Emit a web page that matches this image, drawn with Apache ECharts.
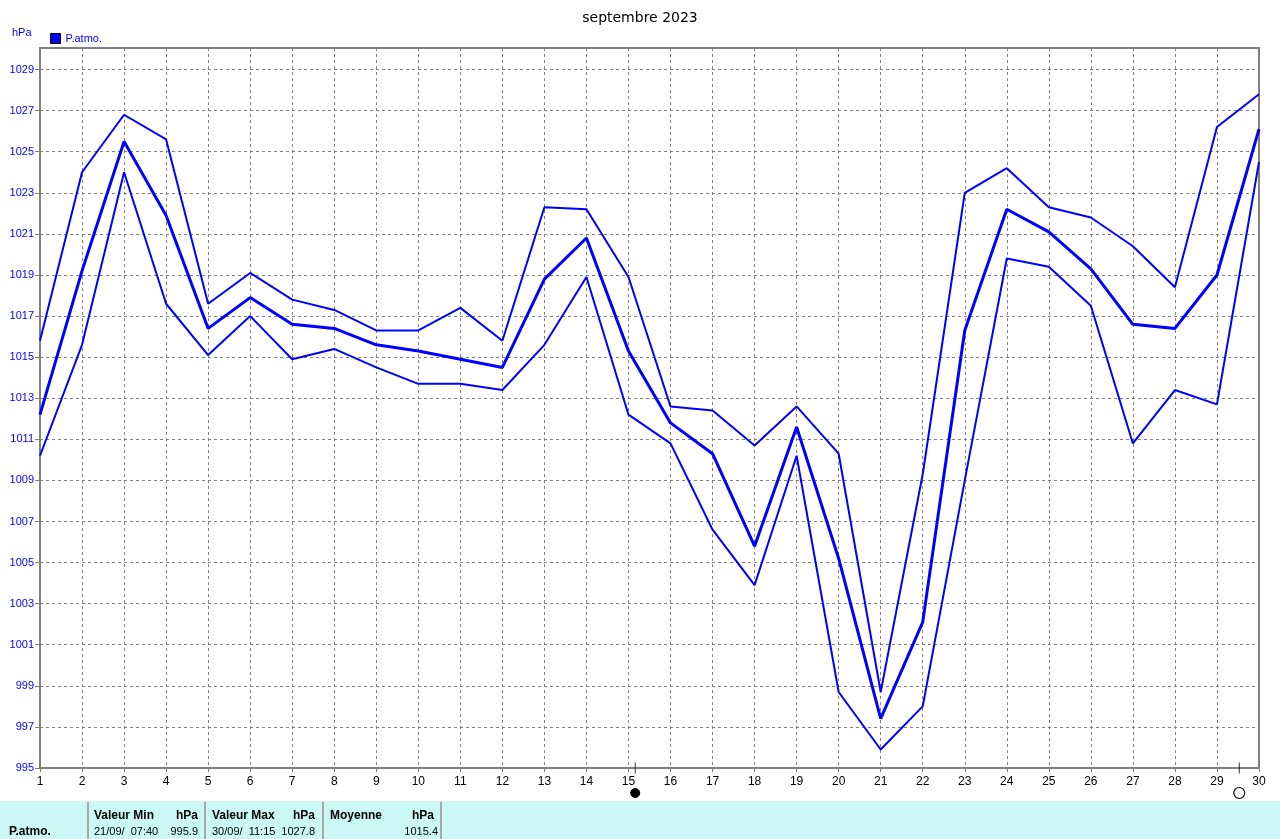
<!DOCTYPE html>
<html>
<head>
<meta charset="utf-8">
<script src="https://cdn.jsdelivr.net/npm/echarts@6/dist/echarts.min.js"></script>
<style>
html,body{margin:0;padding:0;background:#fff;}
#c{width:1280px;height:839px;}
</style>
</head>
<body>
<div id="c"></div>
<script>
// ---- data ----
const days = [1,2,3,4,5,6,7,8,9,10,11,12,13,14,15,16,17,18,19,20,21,22,23,24,25,26,27,28,29,30];
const pMax  = [1015.8,1024.0,1026.8,1025.6,1017.6,1019.1,1017.8,1017.3,1016.3,1016.3,1017.4,1015.8,1022.3,1022.2,1018.9,1012.6,1012.4,1010.7,1012.6,1010.3,998.7,1009.3,1023.0,1024.2,1022.3,1021.8,1020.4,1018.4,1026.2,1027.8];
const pMean = [1012.2,1019.2,1025.5,1021.9,1016.4,1017.9,1016.6,1016.4,1015.6,1015.3,1014.9,1014.5,1018.8,1020.8,1015.3,1011.8,1010.3,1005.8,1011.6,1005.2,997.4,1002.1,1016.3,1022.2,1021.1,1019.3,1016.6,1016.4,1019.0,1026.1];
const pMin  = [1010.2,1015.6,1024.0,1017.6,1015.1,1017.0,1014.9,1015.4,1014.5,1013.7,1013.7,1013.4,1015.6,1018.9,1012.2,1010.8,1006.6,1003.9,1010.2,998.7,995.9,998.0,1009.0,1019.8,1019.4,1017.5,1010.8,1013.4,1012.7,1024.5];
const moonDays = [15.16, 29.53];
const moonPhases = ['new', 'full'];
const yMin = 995, yMax = 1030.05, yStep = 2;
const titleText = 'septembre 2023';
const unitText = 'hPa';
const seriesName = 'P.atmo.';
const tableHeaders = ['Valeur Min', 'hPa', 'Valeur Max', 'hPa', 'Moyenne', 'hPa'];
const tableRow = ['P.atmo.', '21/09/  07:40', '995.9', '30/09/  11:15', '1027.8', '1015.4'];

// ---- chart ----
const BLUE = '#0000ff';
const GRAY = '#808080';
const FONT = '"Liberation Sans", Arial, sans-serif';
const chart = echarts.init(document.getElementById('c'));

const pairs = arr => days.map((d, i) => [d, arr[i]]);

const tableY1 = 816, tableY2 = 832;
const bold = 'bold 12px ' + FONT;
const reg = '11px ' + FONT;
function txt(t, x, y, font, align) {
  return { type: 'text', style: { text: t, x: x, y: y, font: font, fill: '#000', textAlign: align || 'left', textVerticalAlign: 'middle' }, z: 10 };
}
const sep = x => ({ type: 'rect', shape: { x: x, y: 802, width: 2, height: 37 }, style: { fill: '#a8a8a8' }, z: 9 });

chart.setOption({
  animation: false,
  backgroundColor: '#ffffff',
  title: [
    { text: titleText, left: 'center', top: 6, textStyle: { fontFamily: 'DejaVu Sans', fontSize: 14, fontWeight: 'normal', color: '#000' } },
    { text: unitText, left: 7, top: 22, textStyle: { fontFamily: FONT, fontSize: 11, fontWeight: 'normal', color: BLUE } }
  ],
  legend: {
    data: [seriesName],
    left: 45, top: 28,
    icon: 'rect', itemWidth: 10, itemHeight: 10, itemGap: 5,
    itemStyle: { color: BLUE, borderColor: '#000', borderWidth: 1 },
    textStyle: { fontFamily: FONT, fontSize: 11, color: BLUE }
  },
  grid: { left: 40, right: 21, top: 48, bottom: 71, show: true, borderColor: GRAY, borderWidth: 2, backgroundColor: '#fff' },
  xAxis: {
    type: 'value', min: 1, max: 30, interval: 1,
    axisLine: { show: true, lineStyle: { color: GRAY, width: 2 } },
    axisTick: { show: true, length: 4, lineStyle: { color: GRAY } },
    axisLabel: { color: '#000', fontFamily: FONT, fontSize: 12, margin: 8, formatter: v => String(v) },
    splitLine: { show: true, lineStyle: { color: GRAY, type: [3, 3], width: 1 } }
  },
  yAxis: {
    type: 'value', min: yMin, max: yMax, interval: yStep,
    axisLine: { show: true, lineStyle: { color: GRAY, width: 2 } },
    axisTick: { show: true, length: 5, lineStyle: { color: GRAY } },
    axisLabel: { color: BLUE, fontFamily: FONT, fontSize: 11, margin: 6, showMaxLabel: false, formatter: v => String(v) },
    splitLine: { show: true, lineStyle: { color: GRAY, type: [3, 3], width: 1 } }
  },
  series: [
    { name: seriesName + ' max', type: 'line', data: pairs(pMax), symbol: 'none', lineStyle: { color: BLUE, width: 2 }, itemStyle: { color: BLUE }, z: 3 },
    { name: seriesName + ' min', type: 'line', data: pairs(pMin), symbol: 'none', lineStyle: { color: BLUE, width: 2 }, itemStyle: { color: BLUE }, z: 3 },
    { name: seriesName, type: 'line', data: pairs(pMean), symbol: 'none', lineStyle: { color: BLUE, width: 3 }, itemStyle: { color: BLUE }, z: 4 },
    { name: 'moonTick', type: 'scatter', clip: false, silent: true, z: 5,
      data: moonDays.map(d => [d, yMin]), symbol: 'rect', symbolSize: [1, 11], itemStyle: { color: '#000' } },
    { name: 'moon', type: 'scatter', clip: false, silent: true, z: 5,
      data: moonDays.map((d, i) => ({ value: [d, yMin], itemStyle: moonPhases[i] === 'new' ? { color: '#000', borderColor: '#000', borderWidth: 1, opacity: 1 } : { color: '#fff', borderColor: '#000', borderWidth: 1.2, opacity: 1 }, symbolSize: moonPhases[i] === 'new' ? 9 : 11 })),
      symbol: 'circle', symbolOffset: [0, 25] }
  ],
  graphic: [
    { type: 'rect', shape: { x: 0, y: 801, width: 1280, height: 38 }, style: { fill: '#ccf7f7' }, z: 8 },
    sep(87), sep(204), sep(322), sep(440),
    txt(tableHeaders[0], 94, tableY1, bold), txt(tableHeaders[1], 198, tableY1, bold, 'right'),
    txt(tableHeaders[2], 212, tableY1, bold), txt(tableHeaders[3], 315, tableY1, bold, 'right'),
    txt(tableHeaders[4], 330, tableY1, bold), txt(tableHeaders[5], 434, tableY1, bold, 'right'),
    txt(tableRow[0], 9, tableY2, bold),
    txt(tableRow[1], 94, tableY2, reg), txt(tableRow[2], 198, tableY2, reg, 'right'),
    txt(tableRow[3], 212, tableY2, reg), txt(tableRow[4], 315, tableY2, reg, 'right'),
    txt(tableRow[5], 438, tableY2, reg, 'right')
  ]
});
</script>
</body>
</html>
